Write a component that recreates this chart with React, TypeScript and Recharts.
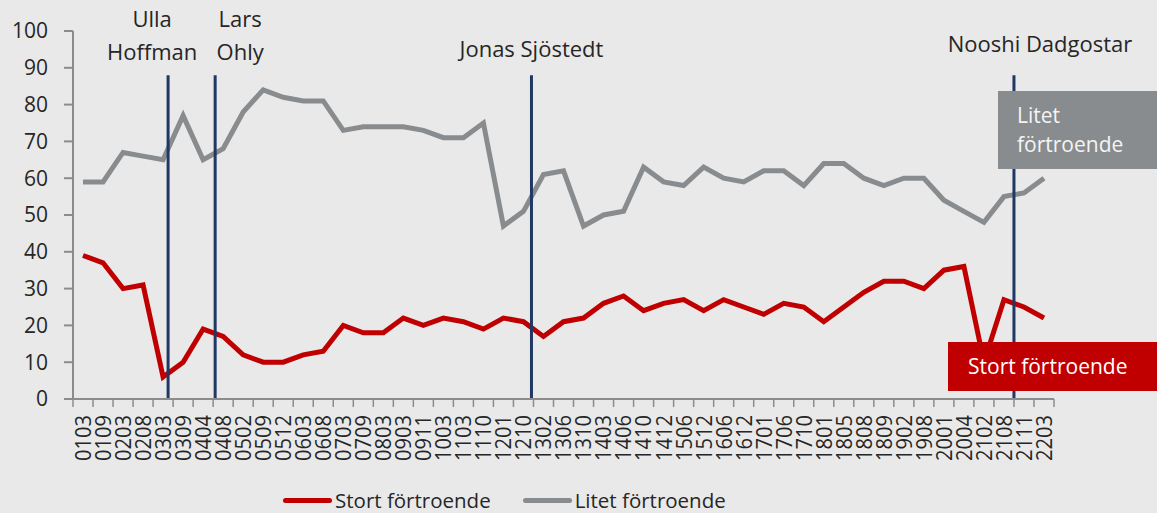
import { LineChart, Line, XAxis, YAxis, ReferenceLine, Legend } from 'recharts'

const categories = [
  '0103', '0109', '0203', '0208', '0303', '0309', '0404', '0408', '0502', '0509',
  '0512', '0603', '0608', '0703', '0709', '0803', '0903', '0911', '1003', '1103',
  '1110', '1201', '1210', '1302', '1306', '1310', '1403', '1406', '1410', '1412',
  '1506', '1512', '1606', '1612', '1701', '1706', '1710', '1801', '1805', '1808',
  '1809', '1902', '1908', '2001', '2004', '2102', '2108', '2111', '2203',
]

const stortValues = [
  39, 37, 30, 31, 6, 10, 19, 17, 12, 10,
  10, 12, 13, 20, 18, 18, 22, 20, 22, 21,
  19, 22, 21, 17, 21, 22, 26, 28, 24, 26,
  27, 24, 27, 25, 23, 26, 25, 21, 25, 29,
  32, 32, 30, 35, 36, 10, 27, 25, 22,
]

const litetValues = [
  59, 59, 67, 66, 65, 77, 65, 68, 78, 84,
  82, 81, 81, 73, 74, 74, 74, 73, 71, 71,
  75, 47, 51, 61, 62, 47, 50, 51, 63, 59,
  58, 63, 60, 59, 62, 62, 58, 64, 64, 60,
  58, 60, 60, 54, 51, 48, 55, 56, 60,
]

const yTicks = [0, 10, 20, 30, 40, 50, 60, 70, 80, 90, 100]

// party leader changes, as position on the category axis
const leaders = [
  { name: ['Ulla', 'Hoffman'], at: 4.25 },
  { name: ['Lars', 'Ohly'], at: 6.6 },
  { name: ['Jonas Sjöstedt'], at: 22.4 },
  { name: ['Nooshi Dadgostar'], at: 46.5 },
]

// offset of the first label line's baseline from the top of its line
const labelOffsets = [
  { dx: -16, dy: -48 },
  { dx: 25, dy: -48 },
  { dx: 0, dy: -18 },
  { dx: 26, dy: -23 },
]

const RED = '#C00000'
const GREY = '#898C8E'
const NAVY = '#1F3864'
const AXIS = '#8C8C8C'
const TEXT = '#262626'
const BG = '#E9E9E9'
const FONT = "'Open Sans', sans-serif"

const data = categories.map((c, i) => ({
  i,
  label: c,
  stort: stortValues[i],
  litet: litetValues[i],
}))

// integer ticks carry the labels, half ticks draw the band separators
const xTicks: number[] = []
for (let k = 0; k <= categories.length; k++) {
  xTicks.push(k - 0.5)
  if (k < categories.length) xTicks.push(k)
}

function XTick(props: any) {
  const { x, y, payload } = props
  const v = payload.value
  if (!Number.isInteger(v)) {
    return <line x1={x} x2={x} y1={y} y2={y + 8} stroke={AXIS} strokeWidth={1.5} />
  }
  return (
    <text
      x={x}
      y={y + 16}
      dy="0.36em"
      transform={`rotate(-90, ${x}, ${y + 16})`}
      textAnchor="end"
      fontSize={22}
      textLength={46}
      lengthAdjust="spacingAndGlyphs"
      fill={TEXT}
      fontFamily={FONT}
    >
      {categories[v]}
    </text>
  )
}

function LeaderLabel(props: any) {
  const { viewBox, lines, dx, dy } = props
  if (!viewBox) return null
  const cx = viewBox.x + dx
  const top = viewBox.y + dy
  return (
    <text textAnchor="middle" fontSize={22} fill={TEXT} fontFamily={FONT}>
      {lines.map((l: string, k: number) => (
        <tspan key={k} x={cx} y={top + k * 33}>
          {l}
        </tspan>
      ))}
    </text>
  )
}

function ChartLegend() {
  const items = [
    { name: 'Stort förtroende', color: RED },
    { name: 'Litet förtroende', color: GREY },
  ]
  return (
    <div
      style={{
        height: 30,
        boxSizing: 'border-box',
        display: 'flex',
        alignItems: 'center',
        paddingLeft: 283,
        paddingTop: 4,
        fontFamily: FONT,
      }}
    >
      {items.map((it) => (
        <div key={it.name} style={{ display: 'flex', alignItems: 'center', marginRight: 32 }}>
          <div style={{ width: 49, height: 5, borderRadius: 3, background: it.color, marginRight: 3 }} />
          <span style={{ fontSize: 20.5, color: TEXT }}>{it.name}</span>
        </div>
      ))}
    </div>
  )
}

export default function App() {
  return (
    <div
      style={{
        position: 'absolute',
        top: 0,
        left: 0,
        width: 1157,
        height: 513,
        background: BG,
        fontFamily: FONT,
        overflow: 'hidden',
      }}
    >
      <LineChart width={1157} height={513} data={data} margin={{ top: 31, right: 103, left: 0, bottom: 0 }}>
        <XAxis
          dataKey="i"
          type="number"
          domain={[-0.5, categories.length - 0.5]}
          ticks={xTicks}
          interval={0}
          tick={<XTick />}
          tickLine={false}
          tickSize={0}
          tickMargin={0}
          axisLine={{ stroke: AXIS, strokeWidth: 2 }}
          height={84}
        />
        <YAxis
          domain={[0, 100]}
          ticks={yTicks}
          width={73}
          tickSize={9}
          tickMargin={16}
          tickLine={{ stroke: AXIS, strokeWidth: 2 }}
          axisLine={{ stroke: AXIS, strokeWidth: 2 }}
          tick={{ fontSize: 21, fill: TEXT, fontFamily: FONT }}
        />
        <Line
          dataKey="litet"
          name="Litet förtroende"
          stroke={GREY}
          strokeWidth={5}
          dot={false}
          isAnimationActive={false}
        />
        <Line
          dataKey="stort"
          name="Stort förtroende"
          stroke={RED}
          strokeWidth={5}
          dot={false}
          isAnimationActive={false}
        />
        {leaders.map((l, k) => (
          <ReferenceLine
            key={l.name.join(' ')}
            segment={[
              { x: l.at, y: 0 },
              { x: l.at, y: 88 },
            ]}
            stroke={NAVY}
            strokeWidth={3}
            label={<LeaderLabel lines={l.name} dx={labelOffsets[k].dx} dy={labelOffsets[k].dy} />}
          />
        ))}
        <Legend verticalAlign="bottom" content={<ChartLegend />} />
      </LineChart>
      <div
        style={{
          position: 'absolute',
          left: 998,
          top: 91,
          width: 159,
          height: 78,
          background: GREY,
          color: '#F4F4F4',
          fontSize: 21,
          lineHeight: '29px',
          padding: '10px 0 0 19px',
          boxSizing: 'border-box',
        }}
      >
        Litet
        <br />
        förtroende
      </div>
      <div
        style={{
          position: 'absolute',
          left: 948,
          top: 342,
          width: 209,
          height: 49,
          background: RED,
          color: '#FFFFFF',
          fontSize: 21,
          lineHeight: '49px',
          paddingLeft: 20,
          boxSizing: 'border-box',
        }}
      >
        Stort förtroende
      </div>
    </div>
  )
}
